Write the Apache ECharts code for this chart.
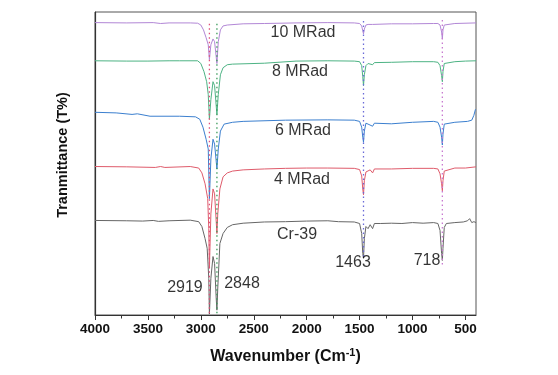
<!DOCTYPE html>
<html>
<head>
<meta charset="utf-8">
<script src="https://cdn.jsdelivr.net/npm/echarts@6/dist/echarts.min.js"></script>
<style>html,body{margin:0;padding:0;background:#fff}#c{width:558px;height:375px}</style>
</head>
<body>
<div id="c"></div>
<script>
// ---- data (wavenumber cm-1, stacked transmittance level 0-100) ----
const traceNames = ['10 MRad', '8 MRad', '6 MRad', '4 MRad', 'Cr-39'];

const mrad10 = [[4000,96.5],[3700,96.4],[3450,96.5],[3380,96.2],[3300,96.4],[3100,96.4],[3030,96.3],[3000,95.7],[2975,94.1],[2950,91.5],[2930,89.2],[2919,84.3],[2905,89.2],[2885,91.1],[2870,90.2],[2848,83.0],[2835,90.2],[2815,94.1],[2790,95.4],[2750,95.7],[2600,96.1],[2400,96.2],[2100,96.4],[1800,96.5],[1550,96.4],[1500,96.2],[1480,95.4],[1470,93.8],[1463,92.8],[1455,94.4],[1440,95.7],[1420,95.9],[1377,95.9],[1200,96.1],[1000,96.1],[800,96.2],[760,96.2],[740,95.7],[725,93.4],[718,91.1],[712,94.1],[700,95.7],[600,96.2],[400,96.4]];

const mrad8 = [[4000,83.9],[3700,83.8],[3500,83.8],[3300,83.9],[3200,83.9],[3030,83.9],[3000,83.0],[2970,80.3],[2945,77.0],[2930,72.8],[2919,64.6],[2905,71.1],[2885,77.0],[2870,75.7],[2848,66.2],[2835,72.8],[2815,79.3],[2790,81.6],[2750,82.6],[2700,82.8],[2400,83.1],[2100,83.8],[1800,83.9],[1550,83.8],[1500,83.6],[1480,82.3],[1470,78.7],[1463,75.7],[1455,79.3],[1440,82.3],[1420,83.0],[1377,82.6],[1360,83.3],[1200,83.4],[1000,83.6],[800,83.6],[760,83.4],[740,82.3],[725,79.0],[718,77.0],[712,80.3],[700,83.0],[600,83.6],[500,83.8],[400,83.9]];

const mrad6 = [[4000,66.9],[3800,66.7],[3650,66.2],[3600,66.4],[3480,65.6],[3200,65.6],[3050,65.4],[3010,64.6],[2980,62.0],[2950,58.0],[2930,54.8],[2919,38.4],[2905,51.5],[2885,58.0],[2870,56.4],[2848,48.2],[2835,54.8],[2815,60.7],[2780,63.0],[2700,63.6],[2600,63.9],[2200,64.3],[1800,64.4],[1550,64.3],[1500,63.9],[1480,62.0],[1470,58.7],[1463,57.0],[1455,60.7],[1440,63.3],[1420,63.0],[1377,62.3],[1360,63.3],[1200,63.1],[1000,63.6],[800,63.9],[760,63.6],[740,62.0],[725,58.7],[718,56.1],[712,59.7],[700,63.0],[600,63.6],[480,63.9],[440,64.3],[420,65.9],[405,67.9]];

const mrad4 = [[4000,49.0],[3700,48.9],[3430,48.7],[3380,49.0],[3340,48.7],[3100,49.0],[3020,48.5],[2990,46.9],[2960,43.3],[2935,38.4],[2925,28.5],[2919,15.4],[2905,33.4],[2885,41.6],[2870,40.0],[2848,26.9],[2840,33.4],[2820,41.6],[2790,45.6],[2750,46.9],[2700,47.5],[2600,47.9],[2400,48.2],[2200,48.4],[2000,48.5],[1800,48.5],[1550,48.4],[1500,48.0],[1480,45.9],[1470,41.6],[1463,39.7],[1455,44.3],[1440,47.2],[1400,47.9],[1377,46.9],[1360,48.2],[1200,48.2],[1000,48.4],[800,48.4],[760,48.2],[740,46.6],[725,43.3],[718,41.0],[712,44.3],[700,47.5],[600,48.5],[500,48.5],[400,48.9]];

const cr39 = [[4000,31.2],[3700,31.1],[3550,31.0],[3450,31.2],[3400,30.9],[3300,31.1],[3100,31.3],[3020,30.8],[2990,29.2],[2960,25.2],[2940,22.0],[2925,12.1],[2919,0.3],[2905,12.1],[2885,19.3],[2870,17.0],[2855,5.6],[2848,1.6],[2840,8.9],[2820,23.6],[2790,26.9],[2750,28.9],[2700,29.8],[2600,30.3],[2400,30.7],[2200,30.8],[2000,31.0],[1800,31.1],[1700,30.8],[1550,30.7],[1500,30.2],[1480,26.9],[1470,20.3],[1463,18.7],[1455,25.2],[1440,29.2],[1420,28.5],[1400,29.8],[1377,28.5],[1360,30.2],[1300,30.2],[1200,30.3],[1100,30.2],[1000,30.5],[900,30.3],[800,30.5],[760,30.2],[740,27.9],[725,20.3],[718,18.0],[712,22.0],[700,28.9],[680,30.2],[600,30.5],[520,30.7],[480,31.1],[460,31.8],[440,30.5],[420,30.8],[400,30.5]];

const traceLabelAt = [[2035,93.1],[2063,80.3],[2035,60.7],[2044,44.6],[2091,26.6]];

const peakPositions = [2919, 2848, 1463, 718];
const peakLineTop = [96.1, 96.1, 97.0, 97.4];
const peakLineBottom = [0, 0, 19.3, 16.4];
const peakLabelAt = [[3150,9.0],[2611,10.5],[1562,17.4],[863,18.0]];

const majorTicks = [4000,3500,3000,2500,2000,1500,1000,500];
const minorTicks = [3750,3250,2750,2250,1750,1250,750];

// ---- styles ----
const traceColors = ['#b287d6', '#4db384', '#3b7fcf', '#df5b6b', '#666666'];
const peakColors = ['#e0507a', '#3a9a5a', '#6a6ad8', '#c87ad0'];
const FONT = 'Liberation Sans, Arial, sans-serif';

const traces = [mrad10, mrad8, mrad6, mrad4, cr39];
const series = [];
traces.forEach((d, i) => {
  series.push({
    type: 'line', name: traceNames[i], data: d, showSymbol: false, symbol: 'none',
    lineStyle: { color: traceColors[i], width: 1 }, silent: true, z: 2
  });
});
peakPositions.forEach((p, i) => {
  series.push({
    type: 'line', data: [[p, peakLineTop[i]], [p, peakLineBottom[i]]], showSymbol: false, symbol: 'none',
    lineStyle: { color: peakColors[i], width: 1.3, type: [1.5, 3] }, silent: true, z: 3
  });
});
const annoLabel = { show: true, position: 'inside', color: '#000', fontSize: 16, fontFamily: FONT };
series.push({
  type: 'scatter', symbolSize: 0, silent: true, z: 5,
  data: traceLabelAt.map((p, i) => ({ value: p, label: { formatter: traceNames[i] } })),
  label: annoLabel
});
series.push({
  type: 'scatter', symbolSize: 0, silent: true, z: 5,
  data: peakLabelAt.map((p, i) => ({ value: p, label: { formatter: String(peakPositions[i]) } })),
  label: annoLabel
});

const chart = echarts.init(document.getElementById('c'), null, { renderer: 'canvas' });
chart.setOption({
  animation: false,
  backgroundColor: '#fff',
  grid: { left: 95, right: 82, top: 12, bottom: 60, show: true, borderColor: '#555', borderWidth: 1 },
  xAxis: [{
    type: 'value', min: 400, max: 4000, inverse: true,
    axisLine: { show: true, onZero: false, lineStyle: { color: '#333', width: 1 } },
    axisTick: { show: true, inside: false, length: 5, customValues: majorTicks, lineStyle: { color: '#333' } },
    axisLabel: { show: true, customValues: majorTicks, formatter: v => String(v), margin: 7,
      color: '#111', fontWeight: 'bold', fontSize: 13.5, fontFamily: FONT },
    splitLine: { show: false },
    name: 'Wavenumber (Cm{sup|-1})', nameLocation: 'middle', nameGap: 32,
    nameTextStyle: { color: '#111', fontWeight: 'bold', fontSize: 16, fontFamily: FONT,
      rich: { sup: { fontSize: 11, fontWeight: 'bold', fontFamily: FONT, color: '#111', padding: [0, 0, 9, 0] } } }
  }, {
    type: 'value', min: 400, max: 4000, inverse: true, position: 'bottom',
    axisLine: { show: false },
    axisTick: { show: true, inside: false, length: 3.5, customValues: minorTicks, lineStyle: { color: '#333' } },
    axisLabel: { show: false }, splitLine: { show: false }
  }],
  yAxis: {
    type: 'value', min: 0, max: 100,
    axisLine: { show: true, lineStyle: { color: '#333', width: 1.2 } },
    axisTick: { show: false }, axisLabel: { show: false }, splitLine: { show: false },
    name: 'Tranmittance (T%)', nameLocation: 'middle', nameGap: 25, nameRotate: 90,
    nameTextStyle: { color: '#111', fontWeight: 'bold', fontSize: 14.5, fontFamily: FONT, padding: [0, 0, 0, 17] }
  },
  series: series
});
</script>
</body>
</html>
